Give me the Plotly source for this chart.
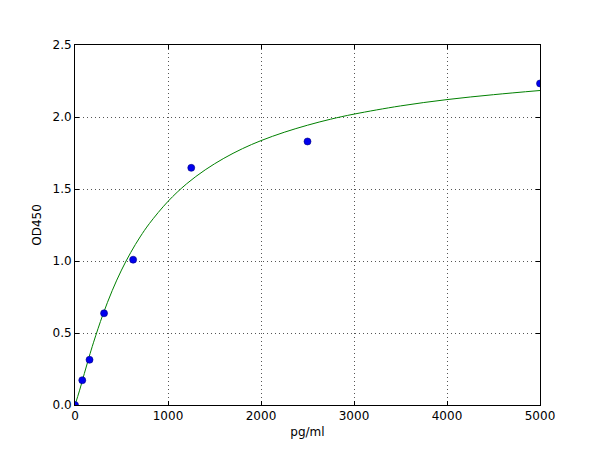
import plotly.graph_objects as go

# Standard points (concentration pg/ml, OD450)
conc = [0, 78.125, 156.25, 312.5, 625, 1250, 2500, 5000]
od = [0.0, 0.172, 0.314, 0.637, 1.009, 1.647, 1.830, 2.233]

# Fitted curve
curve_x = [0, 50, 100, 150, 200, 300, 400, 500, 600, 700, 800, 1000, 1200, 1400,
           1600, 1800, 2000, 2250, 2500, 2750, 3000, 3500, 4000, 4500, 5000]
curve_y = [0.0, 0.103, 0.218, 0.330, 0.436, 0.628, 0.794, 0.937, 1.060, 1.167, 1.260,
           1.414, 1.536, 1.633, 1.713, 1.780, 1.836, 1.894, 1.943, 1.985, 2.020, 2.077,
           2.121, 2.155, 2.184]

x_ticks = [0, 1000, 2000, 3000, 4000, 5000]
y_ticks = [0.0, 0.5, 1.0, 1.5, 2.0, 2.5]

fig = go.Figure()
fig.add_trace(go.Scatter(x=curve_x, y=curve_y, mode="lines", line=dict(color="#008000", width=1, shape="spline"),
                         hoverinfo="skip", showlegend=False))
fig.add_trace(go.Scatter(x=conc, y=od, mode="markers", cliponaxis=True,
                         marker=dict(color="#0000ee", size=7, line=dict(color="#000080", width=0.6)),
                         showlegend=False))

axis_common = dict(showline=True, mirror="allticks", linecolor="black", linewidth=1,
                   ticks="inside", ticklen=4, tickcolor="black", tickwidth=1,
                   showgrid=True, gridcolor="#555555", griddash="1px,3px", gridwidth=1,
                   zeroline=False, tickfont=dict(family="DejaVu Sans", size=12, color="black"))

fig.update_xaxes(range=[0, 5000], tickvals=x_ticks, ticktext=[str(v) for v in x_ticks],
                 title=dict(text="pg/ml", font=dict(family="DejaVu Sans", size=12, color="black"), standoff=5),
                 **axis_common)
fig.update_yaxes(range=[0, 2.5], tickvals=y_ticks, ticktext=[f"{v:.1f}" for v in y_ticks],
                 title=dict(text="OD450", font=dict(family="DejaVu Sans", size=12, color="black"), standoff=8),
                 **axis_common)

fig.update_layout(width=600, height=450, margin=dict(l=67, r=68, t=37, b=53, pad=0),
                  paper_bgcolor="white", plot_bgcolor="white",
                  font=dict(family="DejaVu Sans", size=12, color="black"))

fig.write_html("out.html")
